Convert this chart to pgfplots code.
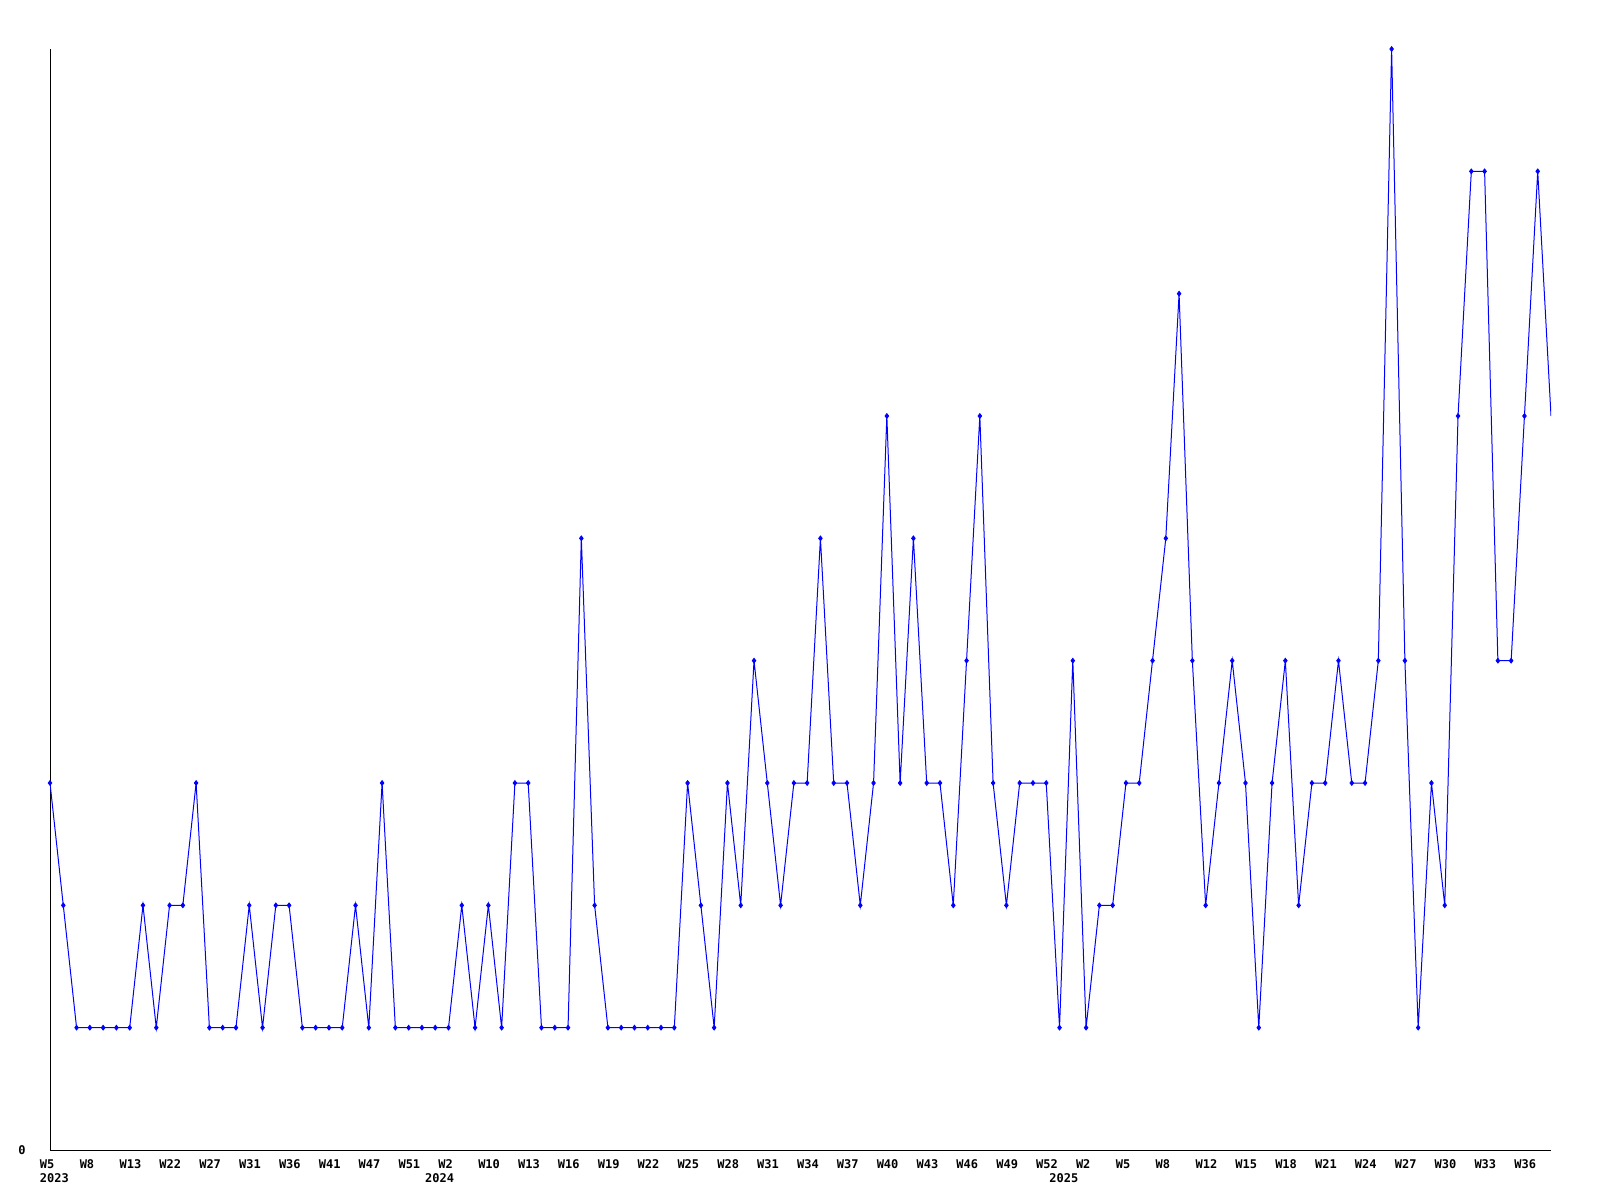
\documentclass[border=0pt]{standalone}
\usepackage{fontspec}
\usepackage{pgfplots}
\usepackage{pgfplotstable}
\pgfplotsset{compat=1.18}
\newfontfamily\pixfont{DejaVu Sans Mono}

% weekly counts, one row per plotted week
\pgfplotstableread{
idx val
0 3
1 2
2 1
3 1
4 1
5 1
6 1
7 2
8 1
9 2
10 2
11 3
12 1
13 1
14 1
15 2
16 1
17 2
18 2
19 1
20 1
21 1
22 1
23 2
24 1
25 3
26 1
27 1
28 1
29 1
30 1
31 2
32 1
33 2
34 1
35 3
36 3
37 1
38 1
39 1
40 5
41 2
42 1
43 1
44 1
45 1
46 1
47 1
48 3
49 2
50 1
51 3
52 2
53 4
54 3
55 2
56 3
57 3
58 5
59 3
60 3
61 2
62 3
63 6
64 3
65 5
66 3
67 3
68 2
69 4
70 6
71 3
72 2
73 3
74 3
75 3
76 1
77 4
78 1
79 2
80 2
81 3
82 3
83 4
84 5
85 7
86 4
87 2
88 3
89 4
90 3
91 1
92 3
93 4
94 2
95 3
96 3
97 4
98 3
99 3
100 4
101 9
102 4
103 1
104 3
105 2
106 6
107 8
108 8
109 4
110 4
111 6
112 8
113 6
}\weekly

\begin{document}
\begin{tikzpicture}
\begin{axis}[
  scale only axis,
  width=750.5pt, height=550.5pt,
  xmin=0, xmax=113, ymin=0, ymax=9,
  axis x line=bottom, axis y line=left,
  axis line style={-, black, line width=0.5pt},
  xtick={0,3,...,111},
  xticklabels={W5,W8,W13,W22,W27,W31,W36,W41,W47,W51,W2,W10,W13,W16,W19,W22,W25,W28,W31,W34,W37,W40,W43,W46,W49,W52,W2,W5,W8,W12,W15,W18,W21,W24,W27,W30,W33,W36},
  ytick={0},
  major tick length=0pt,
  tick label style={font=\pixfont\bfseries\fontsize{6}{6.7}\selectfont, inner sep=0pt},
  xticklabel style={anchor=north west, xshift=-5.25pt, yshift=-4.8pt},
  yticklabel style={anchor=east, xshift=-12pt},
  extra x ticks={0,29,76},
  extra x tick labels={2023,2024,2025},
  extra x tick style={xticklabel style={yshift=-6.7pt}},
  /pgf/number format/assume math mode=true,
]
\addplot[color=blue, line width=0.5pt] table[x=idx, y=val]{\weekly};
\addplot[only marks, mark=diamond*, mark size=1.2pt, color=blue,
  restrict x to domain=0:112.5] table[x=idx, y=val]{\weekly};
\end{axis}
\path[use as bounding box] ([shift={(-25pt,-25pt)}]current axis.south west)
  rectangle ([shift={(24.5pt,24.5pt)}]current axis.north east);
\end{tikzpicture}
\end{document}
